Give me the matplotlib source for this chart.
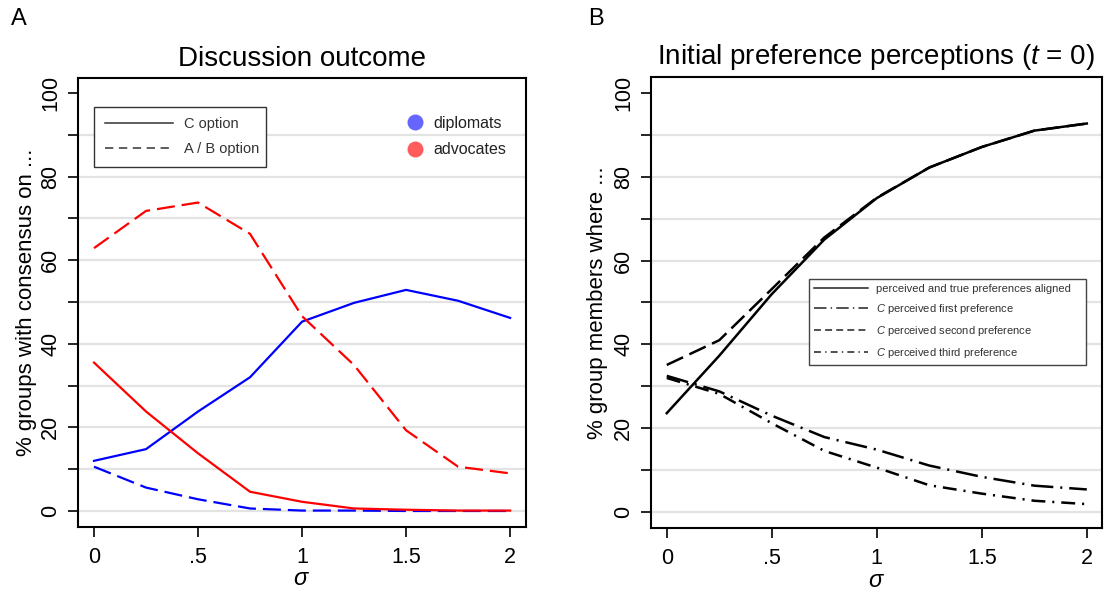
import matplotlib
matplotlib.use("Agg")
import matplotlib.pyplot as plt
from matplotlib.lines import Line2D

plt.rcParams['font.family'] = ['Liberation Sans', 'DejaVu Sans']
plt.rcParams['mathtext.fontset'] = 'custom'
plt.rcParams['mathtext.rm'] = 'Liberation Sans'
plt.rcParams['mathtext.it'] = 'Liberation Sans:italic'
plt.rcParams['lines.scale_dashes'] = False

# ---------------- data ----------------
sigma = [0, 0.25, 0.5, 0.75, 1.0, 1.25, 1.5, 1.75, 2.0]
xtick_vals = [0, 0.5, 1, 1.5, 2]
xtick_labels = ["0", ".5", "1", "1.5", "2"]
ytick_vals = [0, 20, 40, 60, 80, 100]
yminor_vals = [10, 30, 50, 70, 90]
grid_vals = [0, 10, 20, 30, 40, 50, 60, 70, 80, 90]

# Panel A
dip_C = [12.0, 14.8, 23.8, 32.0, 45.3, 49.8, 52.9, 50.3, 46.2]
dip_AB = [10.6, 5.6, 2.8, 0.6, 0.1, 0.1, 0.0, 0.0, 0.0]
adv_C = [35.5, 23.8, 13.8, 4.6, 2.2, 0.6, 0.3, 0.1, 0.1]
adv_AB = [62.9, 71.8, 73.8, 66.3, 46.6, 34.9, 19.3, 10.6, 9.0]

# Panel B
aligned = [23.6, 37.3, 52.0, 65.0, 74.9, 82.2, 87.1, 91.0, 92.7]
c_first = [32.5, 28.8, 23.0, 17.9, 14.9, 11.1, 8.4, 6.3, 5.4]
c_second = [35.1, 41.0, 53.2, 65.5, 75.0, 82.2, 87.1, 91.0, 92.7]
c_third = [32.0, 28.2, 21.2, 14.6, 10.6, 6.4, 4.4, 2.7, 1.9]

labels_B = ["perceived and true preferences aligned",
            "$C$ perceived first preference",
            "$C$ perceived second preference",
            "$C$ perceived third preference"]

# ---------------- figure ----------------
fig = plt.figure(figsize=(11.05, 5.95), dpi=100)
W, H = 1105.0, 595.0
axA = fig.add_axes([78 / W, 1 - 526.7 / H, (525.7 - 78) / W, (526.7 - 78) / H])
axB = fig.add_axes([651 / W, 1 - 528 / H, (1101.5 - 651) / W, (528 - 77) / H])

dash_plot = (0, (13, 5))
dash_first = (0, (16, 5, 1.5, 5))
dash_third = (0, (10, 5, 1.5, 5))


def style_axes(ax, xlim, ylim):
    ax.set_xlim(*xlim)
    ax.set_ylim(*ylim)
    for y in grid_vals:
        ax.axhline(y, color='#e3e3e3', lw=1.6, zorder=0)
    ax.set_xticks(xtick_vals)
    ax.set_xticklabels(xtick_labels)
    ax.set_yticks(ytick_vals)
    ax.set_yticks(yminor_vals, minor=True)
    ax.tick_params(axis='both', which='both', direction='out', length=7,
                   width=1.2, labelsize=15.5, color='black')
    ax.tick_params(axis='x', pad=7.5)
    ax.tick_params(axis='y', pad=5, labelrotation=90)
    for lab in ax.get_yticklabels():
        lab.set_va('center')
    for sp in ax.spines.values():
        sp.set_linewidth(1.5)
        sp.set_color('black')
    ax.set_xlabel(r"$\sigma$", fontsize=17)
    ax.xaxis.set_label_coords(0.5, -0.093)


# ---------- Panel A ----------
style_axes(axA, (-0.077, 2.075), (-3.76, 103.6))
axA.plot(sigma, dip_C, color='#0000ff', lw=1.6, zorder=3)
axA.plot(sigma, dip_AB, color='#0000ff', lw=1.6, ls=dash_plot, zorder=3)
axA.plot(sigma, adv_C, color='#ff0000', lw=1.6, zorder=4)
axA.plot(sigma, adv_AB, color='#ff0000', lw=1.6, ls=dash_plot, zorder=4)
axA.set_title("Discussion outcome", fontsize=20, pad=9)
axA.set_ylabel("% groups with consensus on ...", fontsize=16)
axA.yaxis.set_label_coords(-0.092, 0.5)

h_style = [Line2D([], [], color='#333333', lw=1.1),
           Line2D([], [], color='#333333', lw=1.1, ls=(0, (6, 4)))]
legA1 = axA.legend(h_style, ["C option", "A / B option"],
                   loc='upper left',
                   bbox_to_anchor=((94 - 78) / 447.7, 1 - (106.7 - 78) / 448.7,
                                   (265.7 - 94) / 447.7, 0.0),
                   mode='expand', borderaxespad=0, fontsize=10.5,
                   handlelength=4.7, handletextpad=0.75, labelspacing=0.75,
                   borderpad=0.72, fancybox=False, framealpha=1,
                   edgecolor='#333333', labelcolor='#333333')
legA1.get_frame().set_linewidth(1.0)
axA.add_artist(legA1)

h_col = [Line2D([], [], ls='none', marker='o', markersize=11.5,
                markerfacecolor='#6666ff', markeredgecolor='none'),
         Line2D([], [], ls='none', marker='o', markersize=11.5,
                markerfacecolor='#ff5c5c', markeredgecolor='none')]
axA.legend(h_col, ["diplomats", "advocates"], loc='upper left',
           bbox_to_anchor=((405 - 78) / 447.7, 1 - (116 - 78) / 448.7),
           borderaxespad=0, borderpad=0, frameon=False, fontsize=11.5,
           handlelength=1.2, handletextpad=0.6, labelspacing=0.72,
           labelcolor='#222222')

# ---------- Panel B ----------
style_axes(axB, (-0.075, 2.07), (-3.8, 103.8))
axB.plot(sigma, aligned, color='black', lw=1.8, zorder=4)
axB.plot(sigma, c_first, color='black', lw=1.8, ls=dash_first, zorder=3)
axB.plot(sigma, c_second, color='black', lw=1.8, ls=dash_plot, zorder=3)
axB.plot(sigma, c_third, color='black', lw=1.8, ls=dash_third, zorder=3)
axB.set_title("Initial preference perceptions ($t$ = 0)", fontsize=20, pad=9)
axB.set_ylabel("% group members where ...", fontsize=16)
axB.yaxis.set_label_coords(-0.095, 0.5)

h_B = [Line2D([], [], color='#222222', lw=1.1),
       Line2D([], [], color='#222222', lw=1.1, ls=(0, (9, 3, 1, 3))),
       Line2D([], [], color='#222222', lw=1.1, ls=(0, (5, 3))),
       Line2D([], [], color='#222222', lw=1.1, ls=(0, (5, 3, 1, 3)))]
legB = axB.legend(h_B, labels_B, loc='upper left',
                  bbox_to_anchor=((809 - 651) / 450.5, 1 - (279 - 77) / 451,
                                  (1085.7 - 809) / 450.5, 0.0),
                  mode='expand', borderaxespad=0, fontsize=8,
                  handlelength=4.8, handletextpad=0.75, labelspacing=0.7,
                  borderpad=0.48, fancybox=False, framealpha=1,
                  edgecolor='#444444', labelcolor='#333333')
legB.get_frame().set_linewidth(1.0)

# panel letters
fig.text(11 / W, 1 - 8 / H, "A", fontsize=17, va='top', ha='left')
fig.text(588 / W, 1 - 8 / H, "B", fontsize=17, va='top', ha='left')

fig.savefig("out.png", dpi=100)
